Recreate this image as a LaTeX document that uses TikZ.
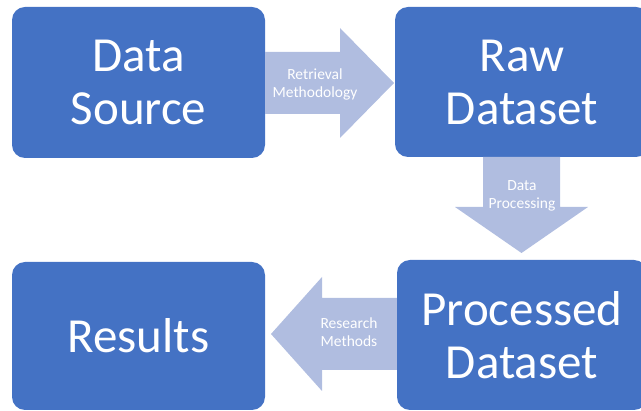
\documentclass[tikz,border=0pt]{standalone}
\usepackage{fontspec}
\setmainfont{Carlito}
\definecolor{boxblue}{RGB}{68,114,196}
\definecolor{arrowblue}{RGB}{176,189,224}
\begin{document}
\begin{tikzpicture}[x=1pt,y=-1pt,
  bigbox/.style={draw=none, fill=boxblue, rounded corners=13pt, text=white,
    align=center, inner sep=0pt,
    font=\fontsize{49pt}{53pt}\selectfont},
  blockarrow/.style={fill=arrowblue, draw=none},
  arrowtext/.style={text=white, align=center, inner sep=0pt,
    font=\fontsize{15.5pt}{18.5pt}\selectfont}]
\useasboundingbox (0,0) rectangle (641,411);
% boxes
\node[bigbox, minimum width=253pt, minimum height=151pt] (ds) at (138.5,82.5) {Data\\Source};
\node[bigbox, minimum width=254pt, minimum height=150pt] (raw) at (522,82) {Raw\\Dataset};
\node[bigbox, minimum width=250pt, minimum height=150pt] (proc) at (522,335) {Processed\\Dataset};
\node[bigbox, minimum width=253pt, minimum height=148pt] (res) at (138.5,336) {Results};
% block arrows
\fill[blockarrow] (ds.east |- 0,52) -- (340,52) -- (340,28) -- (394,83) -- (340,138) -- (340,114) -- (ds.east |- 0,114) -- cycle;
\node[arrowtext] (t1) at (315,84.5) {Retrieval\\Methodology};
\fill[blockarrow] (483,157) -- (560,157) -- (560,207) -- (588,207) -- (521.5,253) -- (455,207) -- (483,207) -- cycle;
\node[arrowtext] (t2) at (522,196) {Data\\Processing};
\fill[blockarrow] (proc.west |- 0,298) -- (322,298) -- (322,277) -- (271,334) -- (322,391) -- (322,370) -- (proc.west |- 0,370) -- cycle;
\node[arrowtext] (t3) at (349,332) {Research\\Methods};
\end{tikzpicture}
\end{document}
